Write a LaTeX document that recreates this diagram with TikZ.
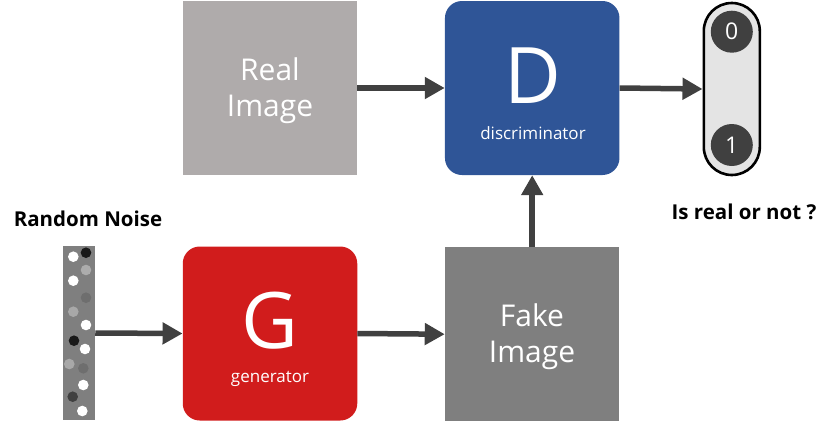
\documentclass[tikz,border=0pt]{standalone}
\usepackage{fontspec}
\setmainfont{Open Sans}
\usepackage{tikz}
\usetikzlibrary{arrows.meta, positioning}
\definecolor{realgray}{HTML}{AFABAB}
\definecolor{fakegray}{HTML}{7F7F7F}
\definecolor{dblue}{HTML}{2F5597}
\definecolor{gred}{HTML}{D11C1C}
\definecolor{arrgray}{HTML}{404040}
\definecolor{pillfill}{HTML}{E4E4E4}
\tikzset{
  % --- Khoi chinh ---------------------------------------------
  imgbox/.style={rectangle, minimum width=174.5pt, minimum height=174pt,
    inner sep=0pt},
  netbox/.style={rectangle, rounded corners=17pt, minimum width=174.5pt,
    minimum height=174pt, inner sep=0pt},
  boxtxt/.style={text=white, align=center, font=\fontsize{30}{36}\selectfont},
  bigtxt/.style={text=white, font=\fontsize{78}{78}\selectfont},
  subtxt/.style={text=white, font=\fontsize{17}{20}\selectfont},
  captxt/.style={font=\fontsize{20.5}{23}\selectfont\bfseries},
  % --- Nhieu / dau ra -----------------------------------------
  noisebar/.style={rectangle, fill=fakegray, minimum width=31.7pt,
    minimum height=174pt, inner sep=0pt},
  pill/.style={draw=black, line width=2.6pt, fill=pillfill, rectangle,
    rounded corners=28pt, minimum width=56pt, minimum height=172pt,
    inner sep=0pt},
  bit/.style={circle, fill=arrgray, minimum size=42pt, inner sep=0pt,
    text=white, font=\fontsize{23}{23}\selectfont},
  fl/.style={-{Triangle[length=20pt, width=21pt]}, line width=5.5pt, draw=arrgray}
}
\begin{document}
\begin{tikzpicture}[x=1pt, y=-1pt]
  \useasboundingbox (0,0) rectangle (829,421);

  % --- Cac khoi -----------------------------------------------------
  \node[imgbox, fill=realgray] (real) at (270,88) {};
  \node[boxtxt] (realtxt) at (270,91) {Real\\Image};
  \node[netbox, fill=dblue] (disc) at (532.2,88) {};
  \node[bigtxt] (dtxt) at (533,76) {D};
  \node[subtxt] (dsub) at (533,133) {discriminator};

  \node[netbox, fill=gred] (gen) at (270,333.5) {};
  \node[bigtxt] (gtxt) at (270,321) {G};
  \node[subtxt] (gsub) at (270,379) {generator};
  \node[imgbox, fill=fakegray] (fake) at (532.2,334.2) {};
  \node[boxtxt] (faketxt) at (532,337) {Fake\\Image};

  % --- Nhieu ngau nhien ---------------------------------------------
  \node[captxt] (noiselbl) at (88,219) {Random Noise};
  \node[noisebar] (noise) at (79.2,333) {};
  \foreach \x/\y/\c in {73.3/256.7/white, 86/252.7/black!90, 86/270/gray!65,
      73.3/280.7/white, 86/297.7/black!57, 73.3/311.7/gray!68,
      86/325/white, 74/340.7/black!90, 85/349/white, 69.3/364/gray!68,
      83.3/368.3/black!57, 83.3/385/white, 72.7/396.7/arrgray, 82.3/411/white}
    \fill[\c] (\x,\y) circle (5.3pt);

  % --- Dau ra ---------------------------------------------------------
  \node[pill] (out) at (731.8,89) {};
  \node[bit] (b0) at (731.8,31.7) {0};
  \node[bit] (b1) at (731.8,145) {1};
  \node[captxt] (outlbl) at (744,212) {Is real or not ?};

  % --- Mui ten --------------------------------------------------------
  \draw[fl] (noise.east) -- (gen.west);
  \draw[fl] (gen.east) -- (fake.west);
  \draw[fl] (fake.north) -- (disc.south);
  \draw[fl] (real.east) -- (disc.west);
  \draw[fl] (disc.east) -- (out.west);

\end{tikzpicture}
\end{document}
